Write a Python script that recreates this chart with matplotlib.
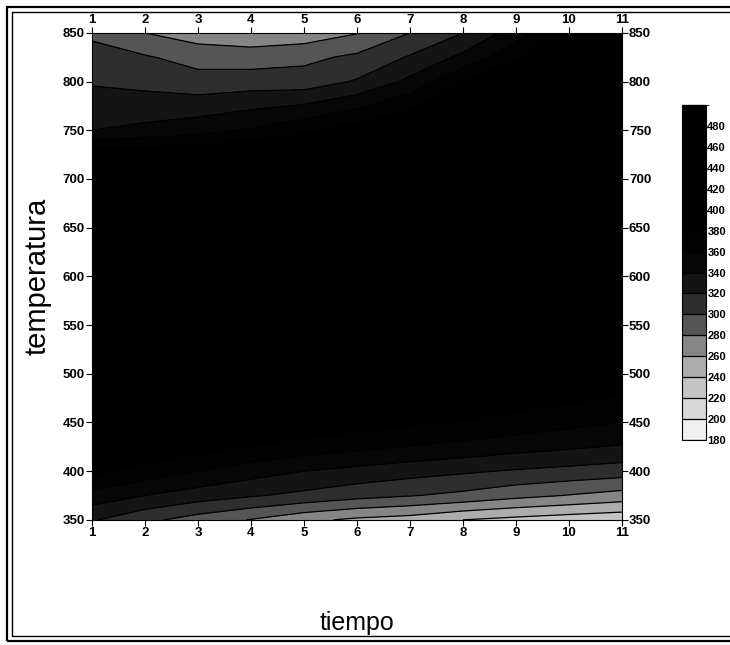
import numpy as np
import matplotlib
matplotlib.use("Agg")
import matplotlib.pyplot as plt
from matplotlib.colors import ListedColormap, BoundaryNorm
from matplotlib.patches import Rectangle

# ----------------------------------------------------------------------
# Response surface (tiempo x temperatura grid)
# ----------------------------------------------------------------------
tiempo = [1, 2, 3, 4, 5, 6, 7, 8, 9, 10, 11]
temperatura = [350, 375, 400, 425, 450, 500, 550, 600, 650, 700, 750, 800, 825, 850]

z_350 = [322, 305, 291, 279, 265, 256, 251, 240, 234, 229, 225]
z_375 = [352, 340, 330, 322, 315, 307, 301, 295, 286, 279, 272]
z_400 = [385, 372, 360, 349, 340, 334, 328, 323, 318, 314, 310]
z_425 = [410, 398, 388, 379, 371, 365, 359, 354, 348, 343, 338]
z_450 = [430, 420, 410, 402, 395, 389, 383, 378, 372, 366, 360]
z_500 = [455, 448, 440, 434, 428, 423, 418, 414, 408, 402, 395]
z_550 = [468, 463, 458, 454, 450, 447, 444, 441, 436, 430, 424]
z_600 = [470, 468, 466, 464, 462, 461, 460, 458, 455, 450, 445]
z_650 = [462, 462, 462, 462, 463, 464, 465, 465, 465, 462, 458]
z_700 = [440, 442, 444, 447, 451, 456, 460, 464, 467, 468, 468]
z_750 = [340, 345, 352, 362, 375, 390, 405, 420, 440, 455, 465]
z_800 = [318, 314, 308, 310, 309, 322, 345, 380, 410, 440, 460]
z_825 = [308, 302, 292, 290, 295, 304, 322, 345, 375, 410, 440]
z_850 = [296, 280, 270, 266, 268, 279, 300, 320, 350, 385, 420]

niveles = list(range(180, 520, 20))
etiquetas_barra = list(range(180, 500, 20))

# gray shades per band, light (180-200) to black (480-500)
grises = ["#f0f0f0", "#d8d8d8", "#c4c4c4", "#adadad", "#858585", "#555555",
          "#2e2e2e", "#141414", "#060606", "#020202", "#000000", "#000000",
          "#000000", "#000000", "#000000", "#000000"]

Z = np.array([z_350, z_375, z_400, z_425, z_450, z_500, z_550, z_600,
              z_650, z_700, z_750, z_800, z_825, z_850], dtype=float)

plt.rcParams["font.family"] = ["Liberation Sans", "DejaVu Sans"]

fig = plt.figure(figsize=(7.30, 6.45), dpi=100)
ax = fig.add_axes([0.126, 0.194, 0.726, 0.755])

cmap = ListedColormap(grises)
norm = BoundaryNorm(niveles, cmap.N)
cf = ax.contourf(tiempo, temperatura, Z, levels=niveles, cmap=cmap, norm=norm)
cs = ax.contour(tiempo, temperatura, Z, levels=niveles, colors="black",
                linewidths=0.9)

ax.set_xlim(1, 11)
ax.set_ylim(350, 850)
ax.set_xticks(tiempo)
ax.set_yticks(range(350, 851, 50))
ax.tick_params(direction="out", length=4, width=0.8, labelsize=9.5,
               top=True, labeltop=True, right=True, labelright=True, pad=1)
for lbl in ax.get_xticklabels() + ax.get_yticklabels():
    lbl.set_fontweight("bold")
for s in ax.spines.values():
    s.set_linewidth(0.8)

ax.set_xlabel("tiempo", fontsize=18, labelpad=52)
ax.set_ylabel("temperatura", fontsize=21, labelpad=8)

# colour bar (labels kept inside the canvas)
cax = fig.add_axes([0.934, 0.318, 0.033, 0.519])
cb = fig.colorbar(cf, cax=cax, ticks=etiquetas_barra)
cb.add_lines(cs)
cb.outline.set_linewidth(0.8)
cax.tick_params(length=0, labelsize=8, pad=1)
for lbl in cax.get_yticklabels():
    lbl.set_fontweight("bold")

# double frame around the whole figure
fig.patches.append(Rectangle((0.010, 0.006), 1.2, 0.983, transform=fig.transFigure,
                             fill=False, edgecolor="black", linewidth=1.6))
fig.patches.append(Rectangle((0.017, 0.014), 1.2, 0.967, transform=fig.transFigure,
                             fill=False, edgecolor="black", linewidth=1.0))

fig.savefig("out.png", dpi=100)
